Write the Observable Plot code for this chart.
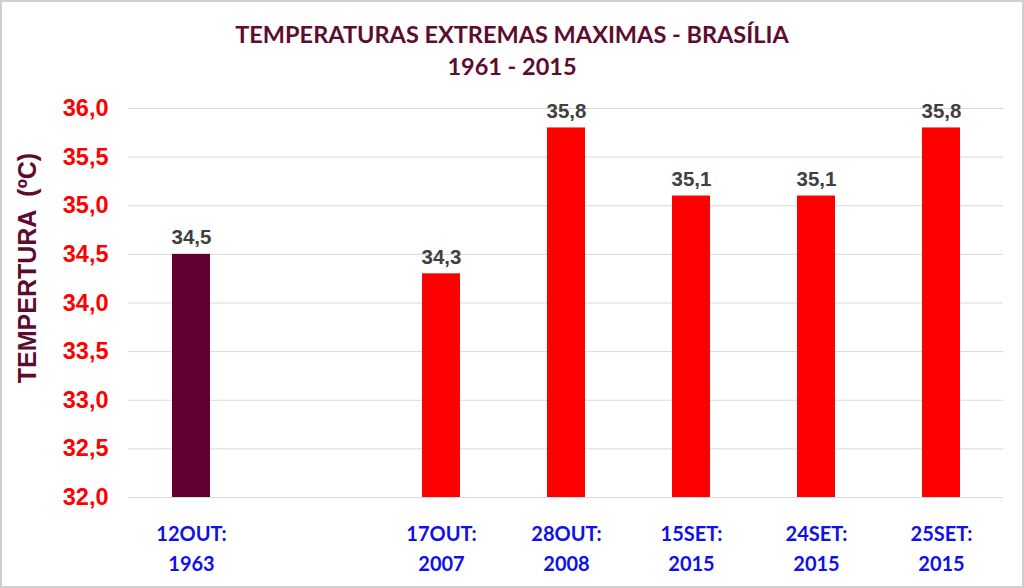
<!DOCTYPE html>
<html>
<head>
<meta charset="utf-8">
<script src="https://cdn.jsdelivr.net/npm/d3@7"></script>
<script src="https://cdn.jsdelivr.net/npm/@observablehq/plot@0.6"></script>
<style>
  html, body { margin: 0; padding: 0; background: #fff; }
  #wrap { position: relative; width: 1024px; height: 588px; overflow: hidden; }
  #border { position: absolute; left: 0; top: 0; width: 1024px; height: 588px; box-sizing: border-box; border: 2px solid #cfcfcf; pointer-events: none; }
  .title { position: absolute; left: 0; width: 1024px; text-align: center; font-family: Lato, "Open Sans", sans-serif; font-weight: bold; font-size: 23.5px; color: #5e0b30; }
  #ylabel { position: absolute; left: 27px; top: 268px; transform: translate(-50%, -50%) rotate(-90deg); white-space: pre;
    font-family: "Liberation Sans", Arial, sans-serif; font-weight: bold; font-size: 25px; color: #5e0b30; }
</style>
</head>
<body>
<div id="wrap">
  <div id="chart"></div>
  <div class="title" style="top:20px;">TEMPERATURAS EXTREMAS MAXIMAS - BRASÍLIA</div>
  <div class="title" style="top:52px;">1961 - 2015</div>
  <div id="ylabel">TEMPERTURA  (ºC)</div>
  <div id="border"></div>
</div>
<script>
const categories = ["12OUT:\n1963", " ", "17OUT:\n2007", "28OUT:\n2008", "15SET:\n2015", "24SET:\n2015", "25SET:\n2015"];
const values = [34.5, null, 34.3, 35.8, 35.1, 35.1, 35.8];
const barColors = ["#600030", "#ff0000", "#ff0000", "#ff0000", "#ff0000", "#ff0000", "#ff0000"];
const yTicks = [32, 32.5, 33, 33.5, 34, 34.5, 35, 35.5, 36];

const data = categories.map((c, i) => ({cat: c, value: values[i], color: barColors[i]})).filter(d => d.value != null);
const fmt = v => v.toFixed(1).replace(".", ",");

const chart = Plot.plot({
  width: 1024,
  height: 588,
  marginTop: 108,
  marginBottom: 91,
  marginLeft: 128,
  marginRight: 21,
  style: {background: "transparent"},
  x: {domain: categories, paddingInner: 0.7, paddingOuter: 0.35},
  y: {domain: [32, 36]},
  marks: [
    Plot.gridY(yTicks, {stroke: "#d9d9d9", strokeOpacity: 1}),
    Plot.barY(data, {x: "cat", y1: 32, y2: "value", fill: "color"}),
    Plot.text(data, {x: "cat", y: "value", text: d => fmt(d.value), lineAnchor: "bottom", dy: -10,
      fill: "#404040", fontSize: 20.5, fontWeight: "bold", fontFamily: "Liberation Sans, Arial, sans-serif"}),
    Plot.axisY({ticks: yTicks, tickFormat: fmt, tickSize: 0, tickPadding: 20, label: null,
      fill: "#ff0000", fontSize: 23.5, fontWeight: "bold", fontFamily: "Liberation Sans, Arial, sans-serif"}),
    Plot.axisX({tickSize: 0, tickPadding: 22, label: null, lineHeight: 1.5,
      fill: "#1010e8", fontSize: 20, fontWeight: "bold", fontFamily: "Lato, 'Open Sans', sans-serif"})
  ]
});
document.getElementById("chart").appendChild(chart);
</script>
</body>
</html>
